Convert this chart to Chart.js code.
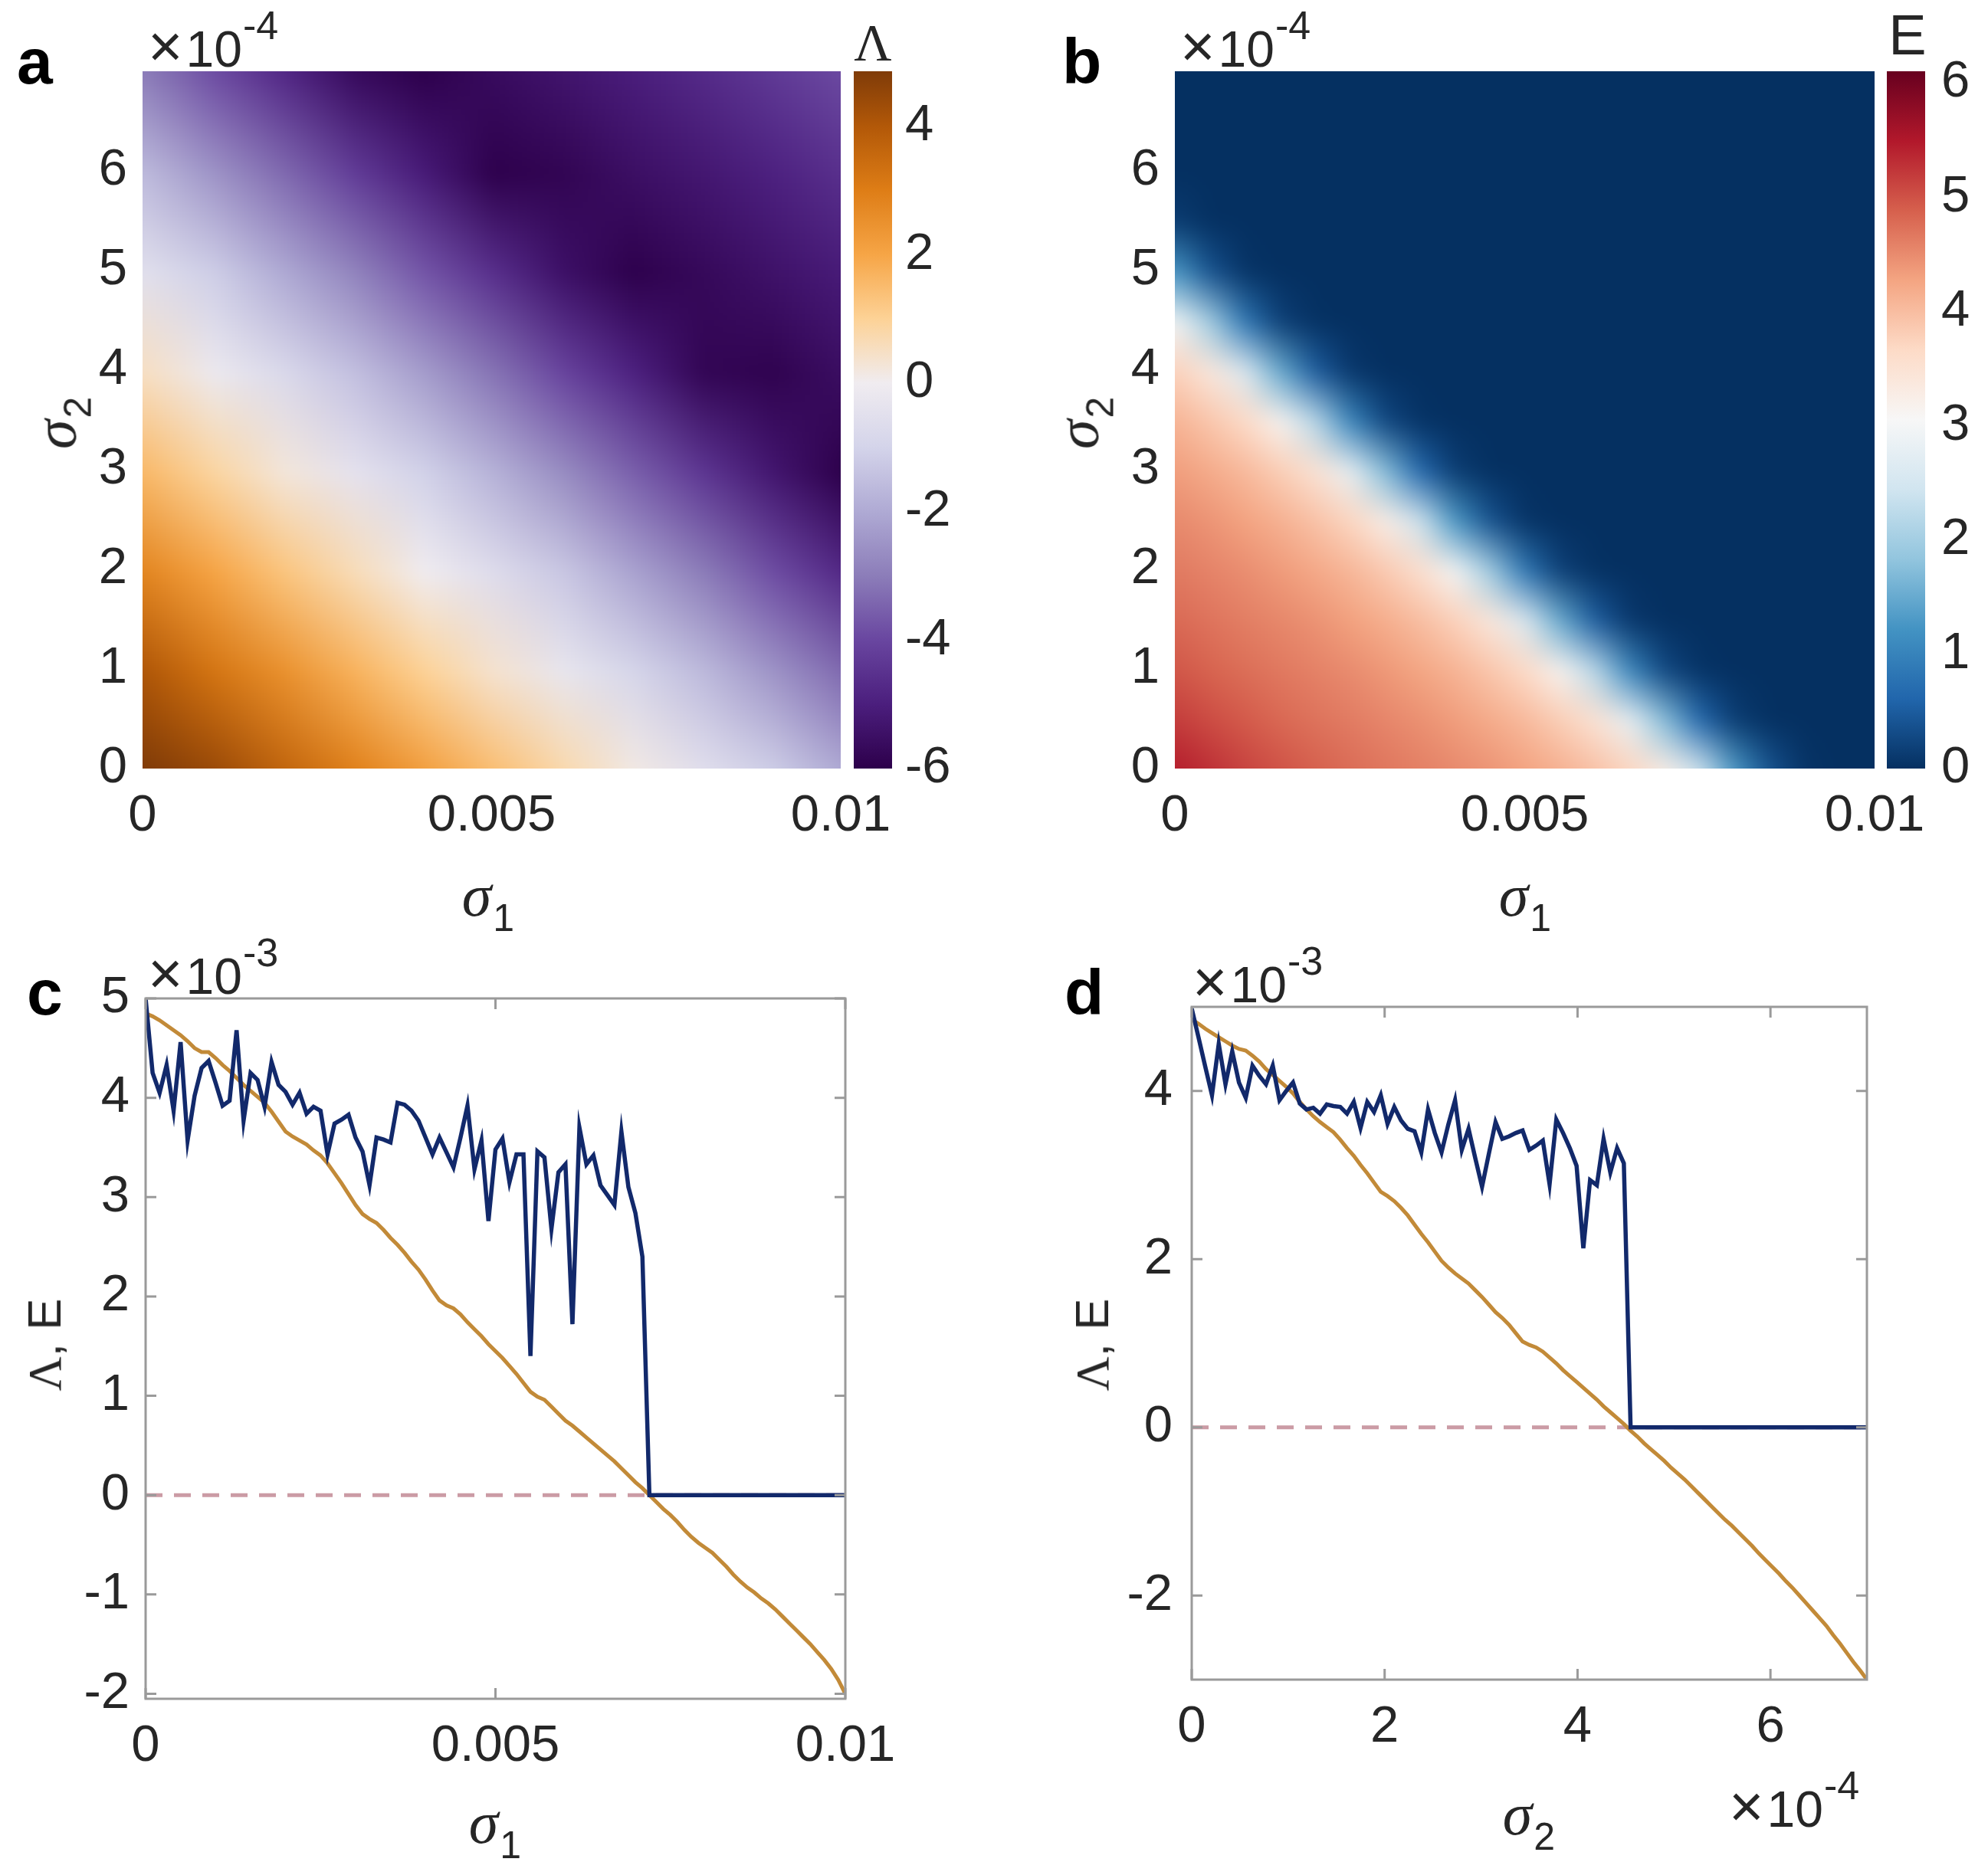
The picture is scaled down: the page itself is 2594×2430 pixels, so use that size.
<!DOCTYPE html>
<html><head><meta charset="utf-8">
<script src="https://cdn.jsdelivr.net/npm/chart.js@4.4.1/dist/chart.umd.min.js"></script>
<style>
html,body{margin:0;padding:0;background:#fff;}
#root{position:relative;width:2594px;height:2430px;overflow:hidden;background:#fff;}
#root canvas{position:absolute;}
.t{position:absolute;white-space:nowrap;line-height:1;color:#262626;font-family:"Liberation Sans",Arial,sans-serif;}
.lbl{color:#000;font-weight:bold;font-size:84px;}
.ex{font-size:66px;}
.ex .x{font-size:78px;margin-right:4px;}
.ex .sup{font-size:52px;position:relative;top:-36px;margin-left:1px;}
.sg{font-family:"Liberation Serif","Times New Roman",serif;font-style:italic;}
.sv{font-family:"Liberation Serif","Times New Roman",serif;}
.ttl{font-size:78px;}
.ttl .sub{font-size:50px;position:relative;top:20px;margin-left:2px;}
.c{transform:translateX(-50%);}
.rot{transform:translate(-50%,-50%) rotate(-90deg);}
</style></head>
<body>
<div id="root">
  <div class="t lbl" style="left:22px;top:38px">a</div>
  <div class="t lbl" style="left:1386px;top:38px">b</div>
  <div class="t lbl" style="left:35px;top:1253px">c</div>
  <div class="t lbl" style="left:1389px;top:1253px">d</div>

  <div class="t ex" style="left:193px;top:21px"><span class="x">×</span>10<span class="sup">-4</span></div>
  <div class="t ex" style="left:1540px;top:21px"><span class="x">×</span>10<span class="sup">-4</span></div>
  <div class="t ex" style="left:193px;top:1231px"><span class="x">×</span>10<span class="sup">-3</span></div>
  <div class="t ex" style="left:1556px;top:1242px"><span class="x">×</span>10<span class="sup">-3</span></div>
  <div class="t ex" style="left:2256px;top:2318px"><span class="x">×</span>10<span class="sup">-4</span></div>

  <div class="t ttl c" style="left:637px;top:1129px"><span class="sg">σ</span><span class="sub">1</span></div>
  <div class="t ttl c" style="left:1990px;top:1129px"><span class="sg">σ</span><span class="sub">1</span></div>
  <div class="t ttl c" style="left:646px;top:2339px"><span class="sg">σ</span><span class="sub">1</span></div>
  <div class="t ttl c" style="left:1995px;top:2328px"><span class="sg">σ</span><span class="sub">2</span></div>

  <div class="t ttl rot" style="left:72px;top:552px"><span class="sg">σ</span><span class="sub">2</span></div>
  <div class="t ttl rot" style="left:1406px;top:552px"><span class="sg">σ</span><span class="sub">2</span></div>
  <div class="t rot" style="left:58px;top:1755px;font-size:62px"><span class="sv">Λ</span>, E</div>
  <div class="t rot" style="left:1425px;top:1755px;font-size:62px"><span class="sv">Λ</span>, E</div>

  <div class="t sv c" style="left:1139px;top:21px;font-size:68px">Λ</div>
  <div class="t c" style="left:2489px;top:9px;font-size:74px">E</div>
</div>
<script>
// ---------------- DATA ----------------
// heat map a: Λ (×1e-3) on grid σ1 (columns) × σ2 (rows, ×1e-4)
const lambdaSigma1 = [0, 0.001, 0.002, 0.003, 0.004, 0.005, 0.006, 0.007, 0.008, 0.009, 0.01];
const lambdaSigma2 = [0, 1, 2, 3, 4, 5, 6, 7];
const lambdaGrid = [
  [4.85, 4.40, 3.66, 2.92, 2.17, 1.45, 0.75, 0.13, -0.53, -1.15, -2.00],
  [4.03, 3.22, 2.50, 1.72, 1.00, 0.37, -0.27, -0.92, -1.62, -2.48, -3.35],
  [2.78, 2.02, 1.30, 0.62, 0.00, -0.66, -1.30, -2.15, -3.00, -3.87, -4.75],
  [1.56, 0.88, 0.25, -0.40, -1.05, -1.80, -2.65, -3.52, -4.40, -5.28, -6.00],
  [0.50, -0.13, -0.80, -1.47, -2.30, -3.17, -4.05, -4.92, -5.80, -5.90, -5.55],
  [-0.52, -1.15, -2.00, -2.82, -3.70, -4.57, -5.45, -5.97, -5.70, -5.40, -5.10],
  [-1.62, -2.48, -3.35, -4.22, -5.10, -5.95, -5.85, -5.50, -5.25, -4.92, -4.55],
  [-3.00, -3.87, -4.75, -5.62, -5.95, -5.62, -5.35, -5.05, -4.70, -4.32, -3.95]
];
// heat map b: E on grid σ1 × σ2 (×1e-4)
const energySigma1 = [0, 0.0005, 0.001, 0.0015, 0.002, 0.0025, 0.003, 0.0035, 0.004, 0.0045, 0.005,
  0.0055, 0.006, 0.0065, 0.007, 0.0075, 0.008, 0.0085, 0.009, 0.0095, 0.01];
const energySigma2 = [0, 0.5, 1, 1.5, 2, 2.5, 3, 3.5, 4, 4.5, 5, 5.5, 6, 6.5, 7];
const energyGrid = [
  [5.45,5.28,5.12,4.99,4.87,4.77,4.68,4.60,4.51,4.41,4.28,4.13,3.94,3.70,3.25,2.42,1.27,0.37,0.04,0,0],
  [5.18,5.04,4.92,4.80,4.71,4.63,4.54,4.45,4.33,4.19,4.03,3.80,3.48,2.81,1.73,0.62,0.13,0.01,0,0,0],
  [4.96,4.84,4.75,4.66,4.58,4.49,4.38,4.25,4.10,3.89,3.63,3.12,2.20,1.05,0.25,0.03,0,0,0,0,0],
  [4.79,4.70,4.61,4.53,4.43,4.30,4.16,3.99,3.76,3.38,2.61,1.50,0.50,0.08,0,0,0,0,0,0,0],
  [4.65,4.56,4.47,4.35,4.22,4.07,3.85,3.55,3.00,1.97,0.83,0.17,0.02,0,0,0,0,0,0,0,0],
  [4.51,4.41,4.28,4.13,3.94,3.70,3.25,2.42,1.27,0.37,0.04,0,0,0,0,0,0,0,0,0,0],
  [4.33,4.19,4.03,3.80,3.48,2.81,1.73,0.62,0.13,0.01,0,0,0,0,0,0,0,0,0,0,0],
  [4.10,3.89,3.63,3.12,2.20,1.05,0.25,0.03,0,0,0,0,0,0,0,0,0,0,0,0,0],
  [3.76,3.38,2.61,1.50,0.50,0.08,0,0,0,0,0,0,0,0,0,0,0,0,0,0,0],
  [3.00,1.97,0.83,0.17,0.02,0,0,0,0,0,0,0,0,0,0,0,0,0,0,0,0],
  [1.27,0.37,0.04,0,0,0,0,0,0,0,0,0,0,0,0,0,0,0,0,0,0],
  [0.13,0.01,0,0,0,0,0,0,0,0,0,0,0,0,0,0,0,0,0,0,0],
  [0,0,0,0,0,0,0,0,0,0,0,0,0,0,0,0,0,0,0,0,0],
  [0,0,0,0,0,0,0,0,0,0,0,0,0,0,0,0,0,0,0,0,0],
  [0,0,0,0,0,0,0,0,0,0,0,0,0,0,0,0,0,0,0,0,0]
];
// panel c: sweep along σ1 (σ2 = 0), values ×1e-3
const sweepSigma1 = Array.from({length: 101}, (_, i) => i / 10000);
const cLambda = [4.85,4.82,4.78,4.73,4.68,4.63,4.57,4.50,4.46,4.46,
  4.40,4.33,4.27,4.20,4.13,4.07,4.01,3.95,3.86,3.76,
  3.66,3.61,3.57,3.53,3.47,3.42,3.34,3.24,3.14,3.03,
  2.92,2.83,2.78,2.74,2.67,2.59,2.52,2.44,2.35,2.27,
  2.17,2.06,1.96,1.91,1.88,1.82,1.74,1.67,1.60,1.52,
  1.45,1.38,1.30,1.22,1.13,1.04,0.99,0.96,0.89,0.82,
  0.75,0.70,0.64,0.58,0.52,0.46,0.40,0.34,0.27,0.20,
  0.13,0.07,0.00,-0.07,-0.14,-0.20,-0.27,-0.35,-0.42,-0.48,
  -0.53,-0.58,-0.65,-0.72,-0.80,-0.87,-0.93,-0.98,-1.04,-1.09,
  -1.15,-1.22,-1.29,-1.36,-1.43,-1.50,-1.58,-1.66,-1.75,-1.86,-2.00];
const cEnergy = [5.00,4.25,4.05,4.33,3.87,4.56,3.57,4.02,4.30,4.37,
  4.15,3.92,3.97,4.68,3.77,4.25,4.18,3.91,4.36,4.13,
  4.06,3.93,4.05,3.84,3.91,3.87,3.43,3.74,3.78,3.83,
  3.60,3.46,3.12,3.60,3.58,3.55,3.95,3.93,3.87,3.77,
  3.60,3.43,3.60,3.45,3.30,3.60,3.92,3.28,3.57,2.76,
  3.48,3.59,3.15,3.43,3.43,1.40,3.46,3.40,2.68,3.25,
  3.33,1.72,3.70,3.33,3.42,3.12,3.02,2.92,3.66,3.10,
  2.84,2.40,0,0,0,0,0,0,0,0,
  0,0,0,0,0,0,0,0,0,0,
  0,0,0,0,0,0,0,0,0,0,0];
// panel d: sweep along σ2 (σ1 = 0), σ2 in units of 1e-4, values ×1e-3
const sweepSigma2 = Array.from({length: 101}, (_, i) => i * 0.07);
const dLambda = [4.85,4.80,4.74,4.69,4.64,4.59,4.54,4.50,4.48,4.42,
  4.35,4.26,4.19,4.12,4.05,3.97,3.87,3.78,3.70,3.63,
  3.57,3.51,3.42,3.32,3.23,3.12,3.02,2.91,2.80,2.75,
  2.69,2.61,2.52,2.41,2.30,2.20,2.09,1.98,1.90,1.83,
  1.77,1.71,1.63,1.55,1.46,1.37,1.30,1.22,1.12,1.02,
  0.98,0.95,0.90,0.83,0.76,0.68,0.61,0.54,0.47,0.40,
  0.33,0.25,0.18,0.11,0.04,-0.04,-0.11,-0.19,-0.26,-0.33,
  -0.40,-0.48,-0.55,-0.62,-0.70,-0.78,-0.86,-0.94,-1.02,-1.10,
  -1.17,-1.25,-1.33,-1.41,-1.50,-1.58,-1.66,-1.74,-1.83,-1.91,
  -2.00,-2.09,-2.18,-2.27,-2.36,-2.47,-2.57,-2.68,-2.79,-2.89,-3.00];
const dEnergy = [4.98,4.64,4.29,3.95,4.56,4.08,4.47,4.10,3.92,4.30,
  4.18,4.08,4.30,3.89,4.00,4.10,3.85,3.78,3.80,3.73,
  3.84,3.82,3.81,3.73,3.87,3.56,3.87,3.75,3.95,3.61,
  3.81,3.65,3.55,3.52,3.27,3.78,3.50,3.27,3.60,3.89,
  3.30,3.55,3.20,2.86,3.25,3.63,3.43,3.46,3.50,3.53,
  3.30,3.35,3.41,2.89,3.66,3.50,3.32,3.11,2.13,2.94,
  2.88,3.43,3.03,3.32,3.14,0,0,0,0,0,
  0,0,0,0,0,0,0,0,0,0,
  0,0,0,0,0,0,0,0,0,0,
  0,0,0,0,0,0,0,0,0,0,0];
// ticks
const sigma1Ticks = [0, 0.005, 0.01];
const sigma1TickLabels = ['0', '0.005', '0.01'];
const sigma2MapTicks = [0, 1, 2, 3, 4, 5, 6];
const sigma2SweepTicks = [0, 2, 4, 6];
const lambdaBarTicks = [-6, -4, -2, 0, 2, 4];
const energyBarTicks = [0, 1, 2, 3, 4, 5, 6];
const cYTicks = [-2, -1, 0, 1, 2, 3, 4, 5];
const dYTicks = [-2, 0, 2, 4];

// ---------------- STYLE ----------------
const FONT = '"Liberation Sans", Arial, sans-serif';
const TICK = '#262626';
const BLUE = '#12296b';
const ORANGE = '#c28a38';
const DASH = 'rgba(200,150,160,0.95)';
const puorStops = [[-6,[45,0,75]],[-5,[75,30,125]],[-4,[105,70,160]],[-3,[140,125,185]],[-2,[175,170,212]],
  [-1,[212,212,234]],[0,[240,236,240]],[1,[253,210,150]],[2,[246,165,70]],[3,[222,125,22]],[4,[178,88,8]],[4.85,[127,59,8]]];
const rdbuStops = [[0,[5,48,97]],[0.61,[33,102,172]],[1.22,[67,147,195]],[1.83,[146,197,222]],[2.44,[209,229,240]],
  [3.05,[247,247,247]],[3.66,[253,219,199]],[4.27,[244,165,130]],[4.88,[214,96,77]],[5.49,[178,24,43]],[6.1,[103,0,31]]];
function cmapColor(stops, v) {
  if (v <= stops[0][0]) return stops[0][1];
  for (let k = 1; k < stops.length; k++) {
    if (v <= stops[k][0]) {
      const [a, ca] = stops[k - 1], [b, cb] = stops[k];
      const t = (v - a) / (b - a);
      return [0, 1, 2].map(j => Math.round(ca[j] + t * (cb[j] - ca[j])));
    }
  }
  return stops[stops.length - 1][1];
}
const heatmaps = {
  a: {xs: lambdaSigma1, ys: lambdaSigma2, grid: lambdaGrid, stops: puorStops, blur: 9},
  b: {xs: energySigma1, ys: energySigma2, grid: energyGrid, stops: rdbuStops, blur: 13}
};
const colorbars = {a: {stops: puorStops}, b: {stops: rdbuStops}};

Chart.defaults.font.family = FONT;
Chart.defaults.color = TICK;
Chart.defaults.animation = false;

const heatmapPlugin = {
  id: 'heatmap',
  beforeDatasetsDraw(chart, args, opts) {
    const h = heatmaps[opts.key];
    if (!h) return;
    const {ctx, chartArea: ca, scales: {x, y}} = chart;
    const cols = h.xs.length, rows = h.ys.length, P = 3;
    const W = cols + 2 * P, H = rows + 2 * P;
    const off = document.createElement('canvas');
    off.width = W; off.height = H;
    const octx = off.getContext('2d');
    const img = octx.createImageData(W, H);
    for (let rr = 0; rr < H; rr++) for (let cc = 0; cc < W; cc++) {
      const r = Math.min(rows - 1, Math.max(0, rows - 1 - (rr - P)));
      const c = Math.min(cols - 1, Math.max(0, cc - P));
      const col = cmapColor(h.stops, h.grid[r][c]);
      const k = (rr * W + cc) * 4;
      img.data[k] = col[0]; img.data[k + 1] = col[1]; img.data[k + 2] = col[2]; img.data[k + 3] = 255;
    }
    octx.putImageData(img, 0, 0);
    const dx = h.xs[1] - h.xs[0], dy = h.ys[1] - h.ys[0];
    const px0 = x.getPixelForValue(h.xs[0] - dx * (0.5 + P)), px1 = x.getPixelForValue(h.xs[cols - 1] + dx * (0.5 + P));
    const py0 = y.getPixelForValue(h.ys[rows - 1] + dy * (0.5 + P)), py1 = y.getPixelForValue(h.ys[0] - dy * (0.5 + P));
    ctx.save();
    ctx.beginPath(); ctx.rect(ca.left, ca.top, ca.right - ca.left, ca.bottom - ca.top); ctx.clip();
    ctx.imageSmoothingEnabled = true; ctx.imageSmoothingQuality = 'low';
    ctx.filter = 'blur(' + h.blur + 'px)';
    ctx.drawImage(off, px0, py0, px1 - px0, py1 - py0);
    ctx.restore();
  }
};
const colorbarPlugin = {
  id: 'colorbar',
  beforeDatasetsDraw(chart, args, opts) {
    const cb = colorbars[opts.key];
    if (!cb) return;
    const {ctx, chartArea: ca, scales: {y}} = chart;
    const y0 = y.getPixelForValue(y.min), y1 = y.getPixelForValue(y.max);
    const g = ctx.createLinearGradient(0, y0, 0, y1);
    cb.stops.forEach(([v, c]) => {
      const t = (v - y.min) / (y.max - y.min);
      if (t >= 0 && t <= 1) g.addColorStop(t, `rgb(${c[0]},${c[1]},${c[2]})`);
    });
    ctx.save(); ctx.fillStyle = g;
    ctx.fillRect(ca.left, ca.top, ca.right - ca.left, ca.bottom - ca.top);
    ctx.restore();
  }
};
const framePlugin = {
  id: 'frame',
  afterDatasetsDraw(chart, args, opts) {
    if (!opts.enabled) return;
    const {ctx, chartArea: {left, right, top, bottom}, scales: {x, y}} = chart;
    ctx.save();
    ctx.strokeStyle = opts.color; ctx.lineWidth = opts.width;
    ctx.strokeRect(left, top, right - left, bottom - top);
    ctx.beginPath();
    x.ticks.forEach(t => { const p = x.getPixelForValue(t.value);
      ctx.moveTo(p, bottom); ctx.lineTo(p, bottom - opts.len); ctx.moveTo(p, top); ctx.lineTo(p, top + opts.len); });
    y.ticks.forEach(t => { const p = y.getPixelForValue(t.value);
      ctx.moveTo(left, p); ctx.lineTo(left + opts.len, p); ctx.moveTo(right, p); ctx.lineTo(right - opts.len, p); });
    ctx.stroke();
    ctx.restore();
  }
};

const root = document.getElementById('root');
function canvasAt(x, y, w, h) {
  const c = document.createElement('canvas');
  c.width = w; c.height = h;
  c.style.left = x + 'px'; c.style.top = y + 'px';
  c.style.width = w + 'px'; c.style.height = h + 'px';
  root.insertBefore(c, root.firstChild);
  return c;
}
function xAxis(min, max, ticks, labels, height, padding) {
  return {
    type: 'linear', min, max,
    grid: {display: false, drawTicks: false}, border: {display: false},
    afterBuildTicks: s => { s.ticks = ticks.map(v => ({value: v})); },
    afterFit: s => { s.height = height; s.paddingLeft = 0; s.paddingRight = 0; s.paddingTop = 0; s.paddingBottom = 0; },
    ticks: {autoSkip: false, maxRotation: 0, minRotation: 0, padding, color: TICK,
      font: {size: 67, family: FONT}, callback: (v, i) => labels[i]}
  };
}
function yAxis(min, max, ticks, width, padding, position) {
  return {
    type: 'linear', min, max, position: position || 'left',
    grid: {display: false, drawTicks: false}, border: {display: false},
    afterBuildTicks: s => { s.ticks = ticks.map(v => ({value: v})); },
    afterFit: s => { s.width = width; s.paddingLeft = 0; s.paddingRight = 0; s.paddingTop = 0; s.paddingBottom = 0; },
    ticks: {autoSkip: false, padding, color: TICK, font: {size: 67, family: FONT}, callback: v => String(v)}
  };
}
const base = {responsive: false, animation: false, devicePixelRatio: 1};
const noLegend = {legend: {display: false}, tooltip: {enabled: false}};

// heat map charts
function heatChart(cx, cw, yw, key, right) {
  const cv = canvasAt(cx, 0, cw, 1100);
  const cells = [];
  const h = heatmaps[key];
  h.ys.forEach((sy, r) => h.xs.forEach((sx, c) => cells.push({x: sx, y: sy, v: h.grid[r][c]})));
  new Chart(cv, {
    type: 'scatter',
    data: {datasets: [{data: cells, pointRadius: 0, pointHoverRadius: 0}]},
    plugins: [heatmapPlugin],
    options: {...base, layout: {padding: {top: 93, right: right, left: 0, bottom: 0}},
      plugins: {...noLegend, heatmap: {key}},
      scales: {x: xAxis(0, 0.01, sigma1Ticks, sigma1TickLabels, 97, 22),
               y: yAxis(0, 7, sigma2MapTicks, yw, 20)}}
  });
}
heatChart(0, 1180, 186, 'a', 83);
heatChart(1340, 1254, 193, 'b', 148);

function colorbar(cx, cw, key, min, max, ticks, pad) {
  const cv = canvasAt(cx, 0, cw, 1100);
  new Chart(cv, {
    type: 'scatter', data: {datasets: []}, plugins: [colorbarPlugin],
    options: {...base, layout: {padding: {top: 93, bottom: 97, left: 0, right: 0}},
      plugins: {...noLegend, colorbar: {key}},
      scales: {x: {display: false, min: 0, max: 1}, y: yAxis(min, max, ticks, cw - 50, pad, 'right')}}
  });
}
colorbar(1114, 200, 'a', -6, 4.85, lambdaBarTicks, 17);
colorbar(2462, 132, 'b', 0, 6.1, energyBarTicks, 21);

// line charts
function lineChart(cx, cy, cw, ch, pad, xs, lam, en, xOpts, yOpts, xMax) {
  const cv = canvasAt(cx, cy, cw, ch);
  new Chart(cv, {
    type: 'line',
    data: {datasets: [
      {data: en.map((v, i) => ({x: xs[i], y: v})), borderColor: BLUE, borderWidth: 5.5, pointRadius: 0, tension: 0},
      {data: lam.map((v, i) => ({x: xs[i], y: v})), borderColor: ORANGE, borderWidth: 5, pointRadius: 0, tension: 0},
      {data: [{x: 0, y: 0}, {x: xMax, y: 0}], borderColor: DASH, borderWidth: 5, borderDash: [22, 15], pointRadius: 0}
    ]},
    plugins: [framePlugin],
    options: {...base, layout: {padding: pad},
      plugins: {...noLegend, frame: {enabled: true, color: '#9a9a9a', width: 3, len: 14}},
      scales: {x: xOpts, y: yOpts}}
  });
}
lineChart(0, 1200, 1200, 1130, {top: 103, right: 97, left: 0, bottom: 0}, sweepSigma1, cLambda, cEnergy,
  xAxis(0, 0.01, sigma1Ticks, sigma1TickLabels, 113, 22), yAxis(-2.05, 5, cYTicks, 190, 21), 0.01);
lineChart(1360, 1200, 1234, 1110, {top: 114, right: 158, left: 0, bottom: 0}, sweepSigma2, dLambda, dEnergy,
  xAxis(0, 7, sigma2SweepTicks, sigma2SweepTicks.map(String), 118, 22), yAxis(-3, 5, dYTicks, 195, 25), 7);
</script>
</body></html>
